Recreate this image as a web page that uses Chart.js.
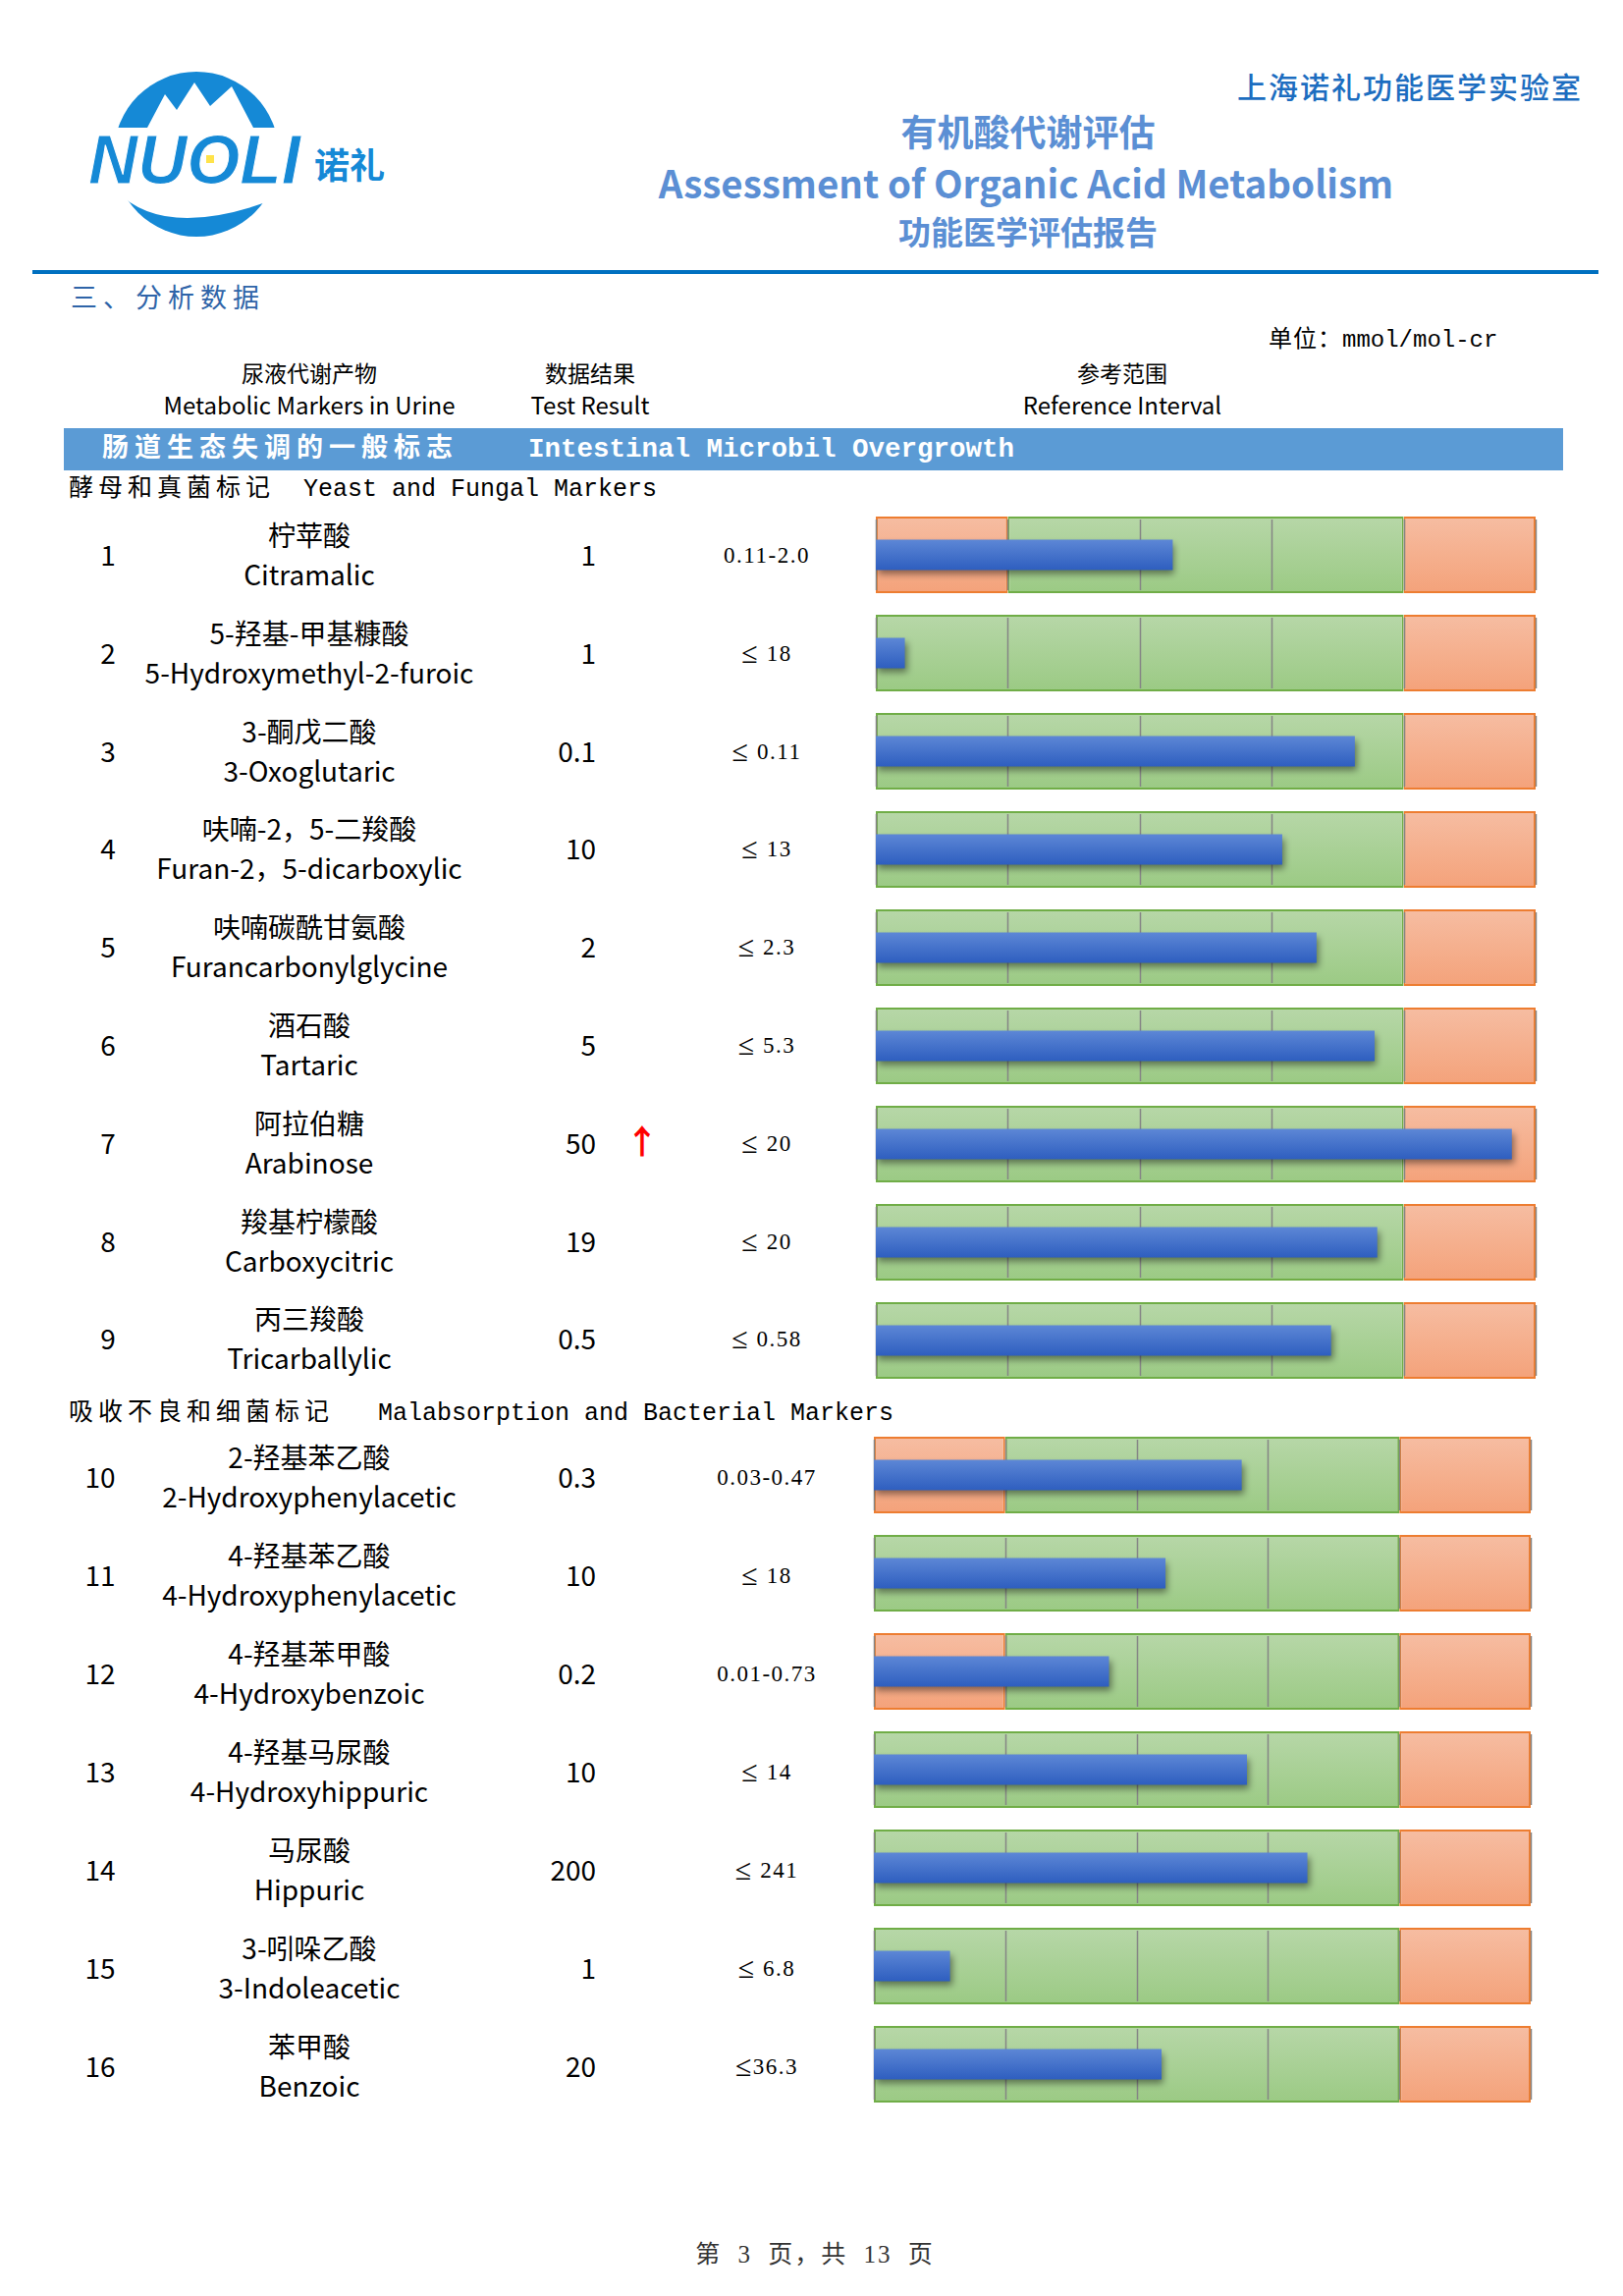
<!DOCTYPE html>
<html>
<head>
<meta charset="utf-8">
<script src="https://cdn.jsdelivr.net/npm/chart.js@4.4.0/dist/chart.umd.min.js"></script>
<style>
  body { margin: 0; background: #fff; }
  #page { position: relative; width: 1653px; height: 2338px; background: #fff; overflow: hidden;
          font-family: "Noto Sans CJK SC", "Noto Sans", sans-serif; color: #000; }
  .abs { position: absolute; white-space: nowrap; line-height: 1; }
  .c { transform: translate(-50%, -50%); }
  .r { transform: translate(-100%, -50%); }
  .l { transform: translate(0, -50%); }
  .mono { font-family: "Liberation Mono", "DejaVu Sans Mono", "Noto Sans CJK SC", monospace; }
  .serif { font-family: "Liberation Serif", "DejaVu Serif", "Noto Sans CJK SC", serif; }
  .zh { letter-spacing: 5px; }
  .le { font-size: 1.3em; vertical-align: -0.08em; }
  .chartBox { position: absolute; }
</style>
</head>
<body>
<div id="page">
  <svg class="abs" style="left:84px;top:68px" width="320" height="180" viewBox="84 68 320 180">
    <defs>
      <clipPath id="topHalf"><rect x="100" y="60" width="220" height="70"/></clipPath>
      <clipPath id="botHalf"><rect x="100" y="194" width="220" height="70"/></clipPath>
    </defs>
    <g clip-path="url(#topHalf)">
      <circle cx="200" cy="157" r="84" fill="#1589d6"/>
      <path d="M150 130 L168 96 L180 112 L198 84 L214 108 L236 88 L258 130 Z" fill="#fff"/>
    </g>
    <g clip-path="url(#botHalf)">
      <circle cx="200" cy="157" r="84" fill="#1589d6"/>
      <path d="M118 194 Q170 248 292 198 L300 194 Z" fill="#fff"/>
    </g>
    <text x="90" y="187" font-family="Liberation Sans, sans-serif" font-weight="bold" font-style="italic"
          font-size="70" fill="#1589d6" stroke="#fff" stroke-width="1" textLength="216" lengthAdjust="spacingAndGlyphs">NUOLI</text>
    <rect x="210" y="158" width="8" height="8" fill="#ffe34a"/>
    <text x="320" y="182" font-family="Noto Sans CJK SC" font-weight="bold" font-size="36" fill="#1589d6">诺礼</text>
  </svg>

  <div class="abs l" style="left:1260px;top:87px;font-size:30px;color:#1c6dc0;letter-spacing:2px;font-weight:500">上海诺礼功能医学实验室</div>
  <div class="abs c" style="left:1047px;top:133px;font-size:37px;font-weight:bold;color:#5b8fd4">有机酸代谢评估</div>
  <div class="abs c" style="left:1045px;top:185px;font-size:38.5px;font-weight:bold;color:#5b8fd4">Assessment of Organic Acid Metabolism</div>
  <div class="abs c" style="left:1047px;top:235px;font-size:33px;font-weight:bold;color:#5b8fd4">功能医学评估报告</div>
  <div class="abs" style="left:33px;top:275px;width:1595px;height:4px;background:#0070c0"></div>
  <div class="abs l" style="left:72px;top:301px;font-size:27px;color:#2f64a8;letter-spacing:6px">三、分析数据</div>

  <div class="abs l" style="left:1292px;top:345px;font-size:24px"><span style="letter-spacing:1px">单位：</span><span class="mono" style="font-size:24px">mmol/mol-cr</span></div>

  <div class="abs c" style="left:315px;top:379px;font-size:23px">尿液代谢产物</div>
  <div class="abs c" style="left:315px;top:412px;font-size:24px">Metabolic Markers in Urine</div>
  <div class="abs c" style="left:601px;top:379px;font-size:23px">数据结果</div>
  <div class="abs c" style="left:601px;top:412px;font-size:24px">Test Result</div>
  <div class="abs c" style="left:1143px;top:379px;font-size:23px">参考范围</div>
  <div class="abs c" style="left:1143px;top:412px;font-size:24px">Reference Interval</div>

  <div class="abs" style="left:65px;top:436px;width:1527px;height:43px;background:#5b9bd5"></div>
  <div class="abs l mono" style="left:104px;top:458px;font-size:27px;color:#fff;font-weight:bold"><span style="letter-spacing:6px">肠道生态失调的一般标志</span></div>
  <div class="abs l mono" style="left:538px;top:458px;font-size:27.5px;color:#fff;font-weight:bold">Intestinal Microbil Overgrowth</div>

  <div class="abs l mono" style="left:70px;top:498px;font-size:25px"><span class="zh">酵母和真菌标记</span></div>
  <div class="abs l mono" style="left:309px;top:498px;font-size:25px">Yeast and Fungal Markers</div>
  <div class="abs l mono" style="left:70px;top:1439px;font-size:25px"><span class="zh">吸收不良和细菌标记</span></div>
  <div class="abs l mono" style="left:385px;top:1439px;font-size:25px">Malabsorption and Bacterial Markers</div>

  <div id="rows"></div>

  <div class="chartBox" style="left:889px;top:515px;width:678px;height:900px"><canvas id="yeastChart"></canvas></div>
  <div class="chartBox" style="left:887px;top:1452px;width:675px;height:700px"><canvas id="bactChart"></canvas></div>

  <div class="abs c serif" style="left:830px;top:2295px;font-size:25px;color:#333;letter-spacing:2px;word-spacing:8px">第 3 页，共 13 页</div>
</div>

<script>
// Yeast and fungal markers
const yeastNamesZh = ['柠苹酸', '5-羟基-甲基糠酸', '3-酮戊二酸', '呋喃-2，5-二羧酸', '呋喃碳酰甘氨酸', '酒石酸', '阿拉伯糖', '羧基柠檬酸', '丙三羧酸'];
const yeastNamesEn = ['Citramalic', '5-Hydroxymethyl-2-furoic', '3-Oxoglutaric', 'Furan-2，5-dicarboxylic', 'Furancarbonylglycine', 'Tartaric', 'Arabinose', 'Carboxycitric', 'Tricarballylic'];
const yeastResults = ['1', '1', '0.1', '10', '2', '5', '50', '19', '0.5'];
const yeastFlags = ['', '', '', '', '', '', 'high', '', ''];
const yeastRefs = ['0.11-2.0', '≤ 18', '≤ 0.11', '≤ 13', '≤ 2.3', '≤ 5.3', '≤ 20', '≤ 20', '≤ 0.58'];
const yeastBars = [2.25, 0.22, 3.63, 3.08, 3.34, 3.78, 4.82, 3.80, 3.45];
const yeastLowZone = [1, 0, 0, 0, 0, 0, 0, 0, 0];
const yeastNormalZone = [3, 4, 4, 4, 4, 4, 4, 4, 4];
const yeastHighZone = [1, 1, 1, 1, 1, 1, 1, 1, 1];

// Malabsorption and bacterial markers
const bactNamesZh = ['2-羟基苯乙酸', '4-羟基苯乙酸', '4-羟基苯甲酸', '4-羟基马尿酸', '马尿酸', '3-吲哚乙酸', '苯甲酸'];
const bactNamesEn = ['2-Hydroxyphenylacetic', '4-Hydroxyphenylacetic', '4-Hydroxybenzoic', '4-Hydroxyhippuric', 'Hippuric', '3-Indoleacetic', 'Benzoic'];
const bactResults = ['0.3', '10', '0.2', '10', '200', '1', '20'];
const bactFlags = ['', '', '', '', '', '', ''];
const bactRefs = ['0.03-0.47', '≤ 18', '0.01-0.73', '≤ 14', '≤ 241', '≤ 6.8', '≤36.3'];
const bactBars = [2.80, 2.22, 1.79, 2.84, 3.30, 0.58, 2.19];
const bactLowZone = [1, 0, 1, 0, 0, 0, 0];
const bactNormalZone = [3, 4, 3, 4, 4, 4, 4];
const bactHighZone = [1, 1, 1, 1, 1, 1, 1];

const scaleTicks = [0, 1, 2, 3, 4, 5];

// text columns
const rowsEl = document.getElementById('rows');
const addText = (cls, left, top, size, text, extra) => {
    const d = document.createElement('div');
    d.className = 'abs ' + cls;
    d.style.left = left + 'px';
    d.style.top = top + 'px';
    d.style.fontSize = size + 'px';
    if (extra) d.style.cssText += extra;
    d.textContent = text;
    rowsEl.appendChild(d);
    return d;
};

const addRef = (left, top, text) => {
    const d = addText('c serif', left, top, 23, '', 'letter-spacing:1.5px');
    if (text.startsWith('≤')) {
        const s = document.createElement('span');
        s.className = 'le';
        s.textContent = '≤';
        // a gap only where the report has a space after the sign
        if (text[1] === ' ') s.style.marginRight = '0.25em';
        d.appendChild(s);
        d.appendChild(document.createTextNode(text.slice(1).trim()));
    } else {
        d.textContent = text;
    }
};

const addRows = (startNo, namesZh, namesEn, results, flags, refs, firstY, pitch, noX) => {
    namesZh.forEach((zh, i) => {
        const y = firstY + i * pitch;
        addText('c', noX, y, 28, String(startNo + i));
        addText('c', 315, y - 20, 28, zh);
        addText('c', 315, y + 20, 28, namesEn[i]);
        addText('r', 607, y, 28, results[i]);
        if (flags[i] === 'high') addText('c', 654, y - 2, 34, '↑', 'color:#ff0000;font-weight:bold');
        addRef(781, y + 1, refs[i]);
    });
};
addRows(1, yeastNamesZh, yeastNamesEn, yeastResults, yeastFlags, yeastRefs, 564, 99.8, 110);
addRows(10, bactNamesZh, bactNamesEn, bactResults, bactFlags, bactRefs, 1503, 100, 102);

// gradients per row band
const BOX = 0.78, BAR = 0.31;
const bandGradient = (top, bottom, frac) => (c) => {
    const chart = c.chart;
    const ys = chart.scales.y;
    if (!ys || !chart.chartArea) return bottom;
    const n = chart.data.labels.length;
    const pitch = (ys.bottom - ys.top) / n;
    const mid = ys.getPixelForValue(c.dataIndex);
    const h = pitch * frac / 2;
    const g = chart.ctx.createLinearGradient(0, mid - h, 0, mid + h);
    g.addColorStop(0, top);
    g.addColorStop(1, bottom);
    return g;
};

// grid lines inside each box, then shadow for the value bars
const rowDecor = {
    id: 'rowDecor',
    beforeDatasetDraw(chart, args) {
        if (args.index !== 0) return;
        const ctx = chart.ctx;
        const xs = chart.scales.x;
        const boxes = chart.getDatasetMeta(2).data;
        ctx.save();
        ctx.strokeStyle = '#858585';
        ctx.lineWidth = 1.5;
        boxes.forEach(bar => {
            const { y, height } = bar.getProps(['y', 'height'], true);
            scaleTicks.forEach(t => {
                const px = Math.round(xs.getPixelForValue(t)) + 0.5;
                ctx.beginPath();
                ctx.moveTo(px, y - height / 2 + 3);
                ctx.lineTo(px, y + height / 2 - 3);
                ctx.stroke();
            });
        });
        ctx.restore();
        ctx.save();
        ctx.shadowColor = 'rgba(0, 0, 0, 0.45)';
        ctx.shadowBlur = 7;
        ctx.shadowOffsetX = 2;
        ctx.shadowOffsetY = 4;
    },
    afterDatasetDraw(chart, args) {
        if (args.index === 0) chart.ctx.restore();
    }
};

const makeChart = (id, labels, bars, low, normal, high) => {
    const common = { grouped: false, categoryPercentage: 1, borderSkipped: false };
    return new Chart(document.getElementById(id), {
        type: 'bar',
        data: {
            labels: labels,
            datasets: [
                Object.assign({ label: 'Result', data: bars, stack: 'v', barPercentage: BAR,
                    backgroundColor: bandGradient('#5d87d6', '#2e5ebf', BAR), borderWidth: 0 }, common),
                Object.assign({ label: 'Low', data: low, stack: 'bg', barPercentage: BOX,
                    backgroundColor: bandGradient('#f6bda2', '#f4a27a', BOX), borderColor: '#ed7d31', borderWidth: 2 }, common),
                Object.assign({ label: 'Normal', data: normal, stack: 'bg', barPercentage: BOX,
                    backgroundColor: bandGradient('#b7d7a8', '#9bca84', BOX), borderColor: '#70ad47', borderWidth: 2 }, common),
                Object.assign({ label: 'High', data: high, stack: 'bg', barPercentage: BOX,
                    backgroundColor: bandGradient('#f6bda2', '#f4a27a', BOX), borderColor: '#ed7d31', borderWidth: 2 }, common)
            ]
        },
        options: {
            indexAxis: 'y',
            responsive: true,
            maintainAspectRatio: false,
            animation: false,
            layout: { padding: { left: 3, right: 3, top: 0, bottom: 0 } },
            scales: {
                x: { display: false, stacked: true, min: 0, max: 5 },
                y: { display: false, stacked: false }
            },
            plugins: { legend: { display: false }, tooltip: { enabled: false } }
        },
        plugins: [rowDecor]
    });
};

makeChart('yeastChart', yeastNamesEn, yeastBars, yeastLowZone, yeastNormalZone, yeastHighZone);
makeChart('bactChart', bactNamesEn, bactBars, bactLowZone, bactNormalZone, bactHighZone);
</script>
</body>
</html>
